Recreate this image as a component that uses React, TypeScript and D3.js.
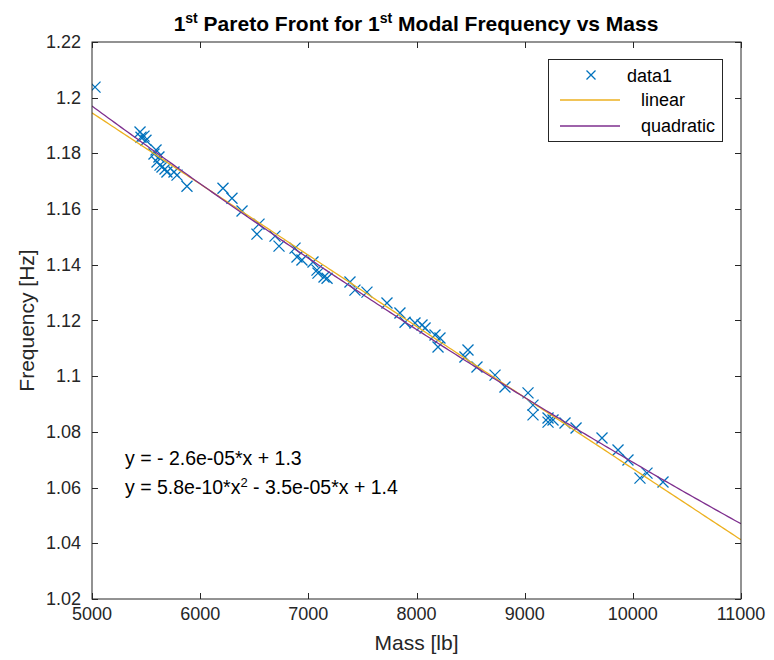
import React, { useEffect, useRef } from 'react';
import * as d3 from 'd3';

// pareto points: mass [lb], frequency [Hz]
const massLb = [
  5028, 5444, 5481, 5453, 5499, 5592, 5573, 5619, 5601, 5629, 5647, 5675, 5693, 5758, 5786, 5878,
  6211, 6294, 6387, 6544, 6525, 6692, 6729, 6877, 6895, 6941, 7043, 7080, 7089, 7145, 7173, 7385,
  7431, 7542, 7727, 7847, 7894, 7986, 8051, 8079, 8171, 8217, 8199, 8476, 8448, 8559, 8726, 8818,
  9031, 9077, 9077, 9216, 9216, 9262, 9373, 9475, 9715, 9863, 9955, 10066, 10131, 10279,
];
const freqHz = [
  1.2038, 1.1877, 1.1862, 1.1858, 1.1847, 1.1812, 1.1798, 1.1787, 1.1769, 1.1758, 1.1751, 1.1744,
  1.1733, 1.1733, 1.1722, 1.1682, 1.1675, 1.1639, 1.1593, 1.1546, 1.151, 1.1503, 1.1467, 1.146,
  1.1428, 1.1417, 1.141, 1.1381, 1.137, 1.1356, 1.1352, 1.1338, 1.1309, 1.1302, 1.1263, 1.1227,
  1.1194, 1.1191, 1.1184, 1.1173, 1.1148, 1.1137, 1.1105, 1.1094, 1.1069, 1.1033, 1.1004, 1.0961,
  1.094, 1.0896, 1.0861, 1.085, 1.0835, 1.0843, 1.0832, 1.0814, 1.0778, 1.0735, 1.0699, 1.0634,
  1.0652, 1.062,
];

// basic fitting coefficients (highest power first)
const linearCoef = [-2.555e-5, 1.3223];
const quadCoef = [5.8e-10, -3.428e-5, 1.3539];

const xTicks = [5000, 6000, 7000, 8000, 9000, 10000, 11000];
const yTicks = [1.02, 1.04, 1.06, 1.08, 1.1, 1.12, 1.14, 1.16, 1.18, 1.2, 1.22];

const FONT = '"Liberation Sans", Arial, sans-serif';

export default function App() {
  const ref = useRef<SVGSVGElement>(null);

  useEffect(() => {
    const svg = d3.select(ref.current);
    svg.selectAll('*').remove();

    const left = 92, right = 741, top = 42, bottom = 599;
    const x = d3.scaleLinear().domain([5000, 11000]).range([left, right]);
    const y = d3.scaleLinear().domain([1.02, 1.22]).range([bottom, top]);

    svg.append('rect').attr('x', 0).attr('y', 0).attr('width', 774).attr('height', 660).attr('fill', '#fff');

    const clip = svg.append('defs').append('clipPath').attr('id', 'plotclip');
    clip.append('rect').attr('x', left).attr('y', top).attr('width', right - left).attr('height', bottom - top);

    // fit curves sampled across the axis
    const xs = d3.range(0, 201).map(i => 5000 + (6000 * i) / 200);
    const polyval = (c: number[], v: number) => c.reduce((acc, k) => acc * v + k, 0);
    const line = d3.line<number>();
    const plot = svg.append('g').attr('clip-path', 'url(#plotclip)');

    const tickLen = 6;
    const axisColor = '#262626';

    // box + ticks
    const ax = svg.append('g');
    ax.append('rect').attr('x', left).attr('y', top).attr('width', right - left).attr('height', bottom - top)
      .attr('fill', 'none').attr('stroke', axisColor).attr('stroke-width', 1);
    xTicks.forEach(t => {
      const px = Math.round(x(t)) + 0.5;
      ax.append('line').attr('x1', px).attr('x2', px).attr('y1', bottom).attr('y2', bottom - tickLen).attr('stroke', axisColor);
      ax.append('line').attr('x1', px).attr('x2', px).attr('y1', top).attr('y2', top + tickLen).attr('stroke', axisColor);
      ax.append('text').attr('x', x(t)).attr('y', bottom + 21).attr('text-anchor', 'middle')
        .attr('font-family', FONT).attr('font-size', 18).attr('fill', axisColor).text(String(t));
    });
    yTicks.forEach(t => {
      const py = Math.round(y(t)) + 0.5;
      ax.append('line').attr('x1', left).attr('x2', left + tickLen).attr('y1', py).attr('y2', py).attr('stroke', axisColor);
      ax.append('line').attr('x1', right).attr('x2', right - tickLen).attr('y1', py).attr('y2', py).attr('stroke', axisColor);
      ax.append('text').attr('x', left - 11).attr('y', y(t) + 6).attr('text-anchor', 'end')
        .attr('font-family', FONT).attr('font-size', 18).attr('fill', axisColor).text(String(t));
    });

    // markers
    const ms = 5.5;
    massLb.forEach((m, i) => {
      const cx = x(m), cy = y(freqHz[i]);
      plot.append('path')
        .attr('d', `M${cx - ms},${cy - ms}L${cx + ms},${cy + ms}M${cx - ms},${cy + ms}L${cx + ms},${cy - ms}`)
        .attr('stroke', '#0072BD').attr('stroke-width', 1.3).attr('fill', 'none');
    });

    plot.append('path').attr('d', line(xs.map(v => [x(v), y(polyval(linearCoef, v))]) as any))
      .attr('fill', 'none').attr('stroke', '#EDB120').attr('stroke-width', 1.3);
    plot.append('path').attr('d', line(xs.map(v => [x(v), y(polyval(quadCoef, v))]) as any))
      .attr('fill', 'none').attr('stroke', '#7E2F8E').attr('stroke-width', 1.3);

    // title
    const title = svg.append('text').attr('x', 416).attr('y', 31).attr('text-anchor', 'middle')
      .attr('font-family', FONT).attr('font-size', 21).attr('font-weight', 'bold').attr('fill', '#000');
    title.append('tspan').text('1');
    title.append('tspan').attr('dy', -8).attr('font-size', 14).text('st');
    title.append('tspan').attr('dy', 8).text(' Pareto Front for 1');
    title.append('tspan').attr('dy', -8).attr('font-size', 14).text('st');
    title.append('tspan').attr('dy', 8).text(' Modal Frequency vs Mass');

    // axis labels
    svg.append('text').attr('x', (left + right) / 2).attr('y', 650).attr('text-anchor', 'middle')
      .attr('font-family', FONT).attr('font-size', 21).attr('fill', axisColor).text('Mass [lb]');
    svg.append('text').attr('transform', `translate(34,${(top + bottom) / 2}) rotate(-90)`).attr('text-anchor', 'middle')
      .attr('font-family', FONT).attr('font-size', 21).attr('fill', axisColor).text('Frequency [Hz]');

    // fit equations
    svg.append('text').attr('x', 125).attr('y', 465).attr('font-family', FONT).attr('font-size', 19.5).attr('fill', '#000')
      .text('y = - 2.6e-05*x + 1.3');
    const eq2 = svg.append('text').attr('x', 125).attr('y', 494).attr('font-family', FONT).attr('font-size', 19.5).attr('fill', '#000');
    eq2.append('tspan').text('y = 5.8e-10*x');
    eq2.append('tspan').attr('dy', -7).attr('font-size', 13).text('2');
    eq2.append('tspan').attr('dy', 7).text(' - 3.5e-05*x + 1.4');

    // legend
    const lg = svg.append('g');
    lg.append('rect').attr('x', 548.5).attr('y', 59.5).attr('width', 174).attr('height', 82)
      .attr('fill', '#fff').attr('stroke', axisColor).attr('stroke-width', 1);
    lg.append('path').attr('d', `M${591 - 4.5},${75 - 4.5}L${591 + 4.5},${75 + 4.5}M${591 - 4.5},${75 + 4.5}L${591 + 4.5},${75 - 4.5}`)
      .attr('stroke', '#0072BD').attr('stroke-width', 1.3);
    lg.append('line').attr('x1', 560).attr('x2', 620).attr('y1', 100).attr('y2', 100).attr('stroke', '#EDB120').attr('stroke-width', 1.3);
    lg.append('line').attr('x1', 560).attr('x2', 620).attr('y1', 126).attr('y2', 126).attr('stroke', '#7E2F8E').attr('stroke-width', 1.3);
    const entries = [['data1', 627, 82], ['linear', 641, 106], ['quadratic', 641, 132]] as const;
    entries.forEach(([t, lx, ly]) => {
      lg.append('text').attr('x', lx).attr('y', ly).attr('font-family', FONT).attr('font-size', 18).attr('fill', '#000').text(t);
    });
  }, []);

  return (
    <div>
      <svg ref={ref} width={774} height={660} style={{ display: 'block', position: 'absolute', left: 0, top: 0 }} />
    </div>
  );
}
